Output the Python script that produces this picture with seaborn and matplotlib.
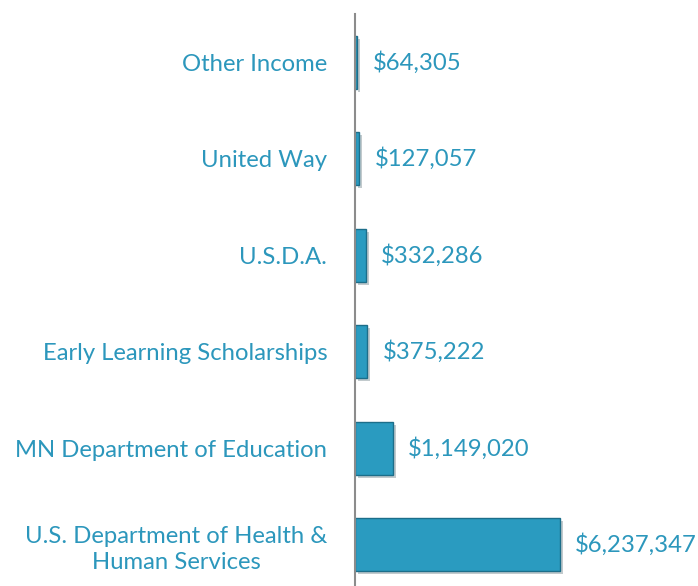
import matplotlib
matplotlib.use('Agg')
import matplotlib.pyplot as plt
import matplotlib.patheffects as pe
import seaborn as sns
import pandas as pd

# Sources, top to bottom
sources = ['Other Income', 'United Way', 'U.S.D.A.', 'Early Learning Scholarships',
           'MN Department of Education', 'U.S. Department of Health &\nHuman Services']
amounts = [64305, 127057, 332286, 375222, 1149020, 6237347]
value_labels = ['$64,305', '$127,057', '$332,286', '$375,222', '$1,149,020', '$6,237,347']

teal = '#2A9BC0'
text_teal = '#2C97BC'

df = pd.DataFrame({'Source': sources, 'Amount': amounts})

sns.set_style('white')
plt.rcParams['font.family'] = ['Lato', 'DejaVu Sans']

fig = plt.figure(figsize=(6.98, 5.86), dpi=100)
ax = fig.add_axes([0.5086, -0.012, 0.4914, 0.988])

sns.barplot(data=df, x='Amount', y='Source', orient='h', color=teal,
            width=0.55, edgecolor='#1C6E8A', linewidth=1.0, saturation=1, ax=ax)

for bar in ax.patches:
    bar.set_path_effects([pe.SimplePatchShadow(offset=(2, -2), alpha=0.25), pe.Normal()])

ax.bar_label(ax.containers[0], labels=value_labels, padding=11,
             fontsize=17.2, color=text_teal)

ax.set_xlim(0, 10.44e6)
ax.set_ylim(5.5, -0.5)
ax.set_xlabel('')
ax.set_ylabel('')
ax.set_xticks([])
ax.tick_params(axis='y', length=0, pad=20, labelsize=17.2, labelcolor=text_teal)
for lbl in ax.get_yticklabels():
    lbl.set_horizontalalignment('right')
    lbl.set_multialignment('center')
    lbl.set_linespacing(1.3)

sns.despine(ax=ax, top=True, right=True, bottom=True)
ax.spines['left'].set_color('#8C8C8C')
ax.spines['left'].set_linewidth(1.5)

plt.savefig('out.png', dpi=100)
